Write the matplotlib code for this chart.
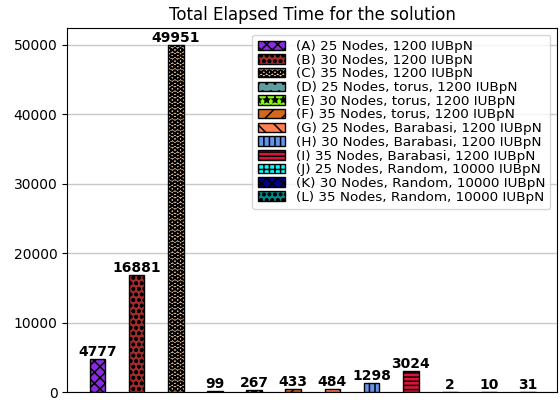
import matplotlib
matplotlib.use("Agg")
import matplotlib.pyplot as plt

plt.rcParams["hatch.linewidth"] = 1.1

labels = ["(A) 25 Nodes, 1200 IUBpN", "(B) 30 Nodes, 1200 IUBpN", "(C) 35 Nodes, 1200 IUBpN",
          "(D) 25 Nodes, torus, 1200 IUBpN", "(E) 30 Nodes, torus, 1200 IUBpN",
          "(F) 35 Nodes, torus, 1200 IUBpN", "(G) 25 Nodes, Barabasi, 1200 IUBpN",
          "(H) 30 Nodes, Barabasi, 1200 IUBpN", "(I) 35 Nodes, Barabasi, 1200 IUBpN",
          "(J) 25 Nodes, Random, 10000 IUBpN", "(K) 30 Nodes, Random, 10000 IUBpN",
          "(L) 35 Nodes, Random, 10000 IUBpN"]
values = [4777, 16881, 49951, 99, 267, 433, 484, 1298, 3024, 2, 10, 31]
colors = ["blueviolet", "brown", "burlywood", "cadetblue", "chartreuse", "chocolate",
          "coral", "cornflowerblue", "crimson", "cyan", "darkblue", "darkcyan"]
hatches = ["xxx", "ooo", "OOO", "..", "**", "//", "\\\\", "|||", "----", "+++", "xxx", "ooo"]

fig = plt.figure(figsize=(5.6, 4.0), dpi=100)
ax = fig.add_axes([0.12, 0.02, 0.875, 0.91])
ax.yaxis.grid(True, color="#c8c8c8", linewidth=1)
ax.set_axisbelow(True)
for i, (v, c, h, lab) in enumerate(zip(values, colors, hatches, labels)):
    ax.bar(i, v, width=0.4, color=c, hatch=h, edgecolor="black", label=lab)
    ax.text(i, v, str(v), ha="center", va="bottom", fontweight="bold", fontsize=10)
ax.set_xlim(-0.77, 11.74)
ax.set_xticks([])
ax.set_title("Total Elapsed Time for the solution", fontsize=12)
ax.legend(loc="upper right", fontsize=9.7, labelspacing=0.05)
fig.savefig("out.png", dpi=100)
